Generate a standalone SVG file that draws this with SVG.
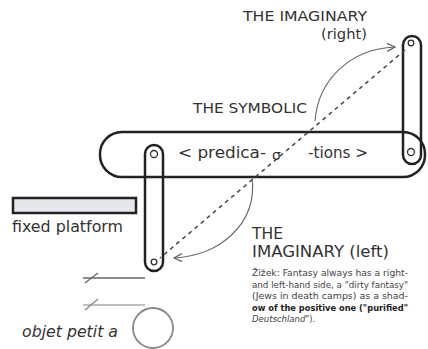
<svg xmlns="http://www.w3.org/2000/svg" width="428" height="349" viewBox="0 0 428 349">
<style>
text{font-family:"DejaVu Sans","Liberation Sans",sans-serif;fill:#333}
.bar{fill:none;stroke:#222;stroke-width:2.5}
.dot{fill:#fff;stroke:#333;stroke-width:1.3}
.arr{fill:none;stroke:#666;stroke-width:1.1}
.para{font-size:8.5px;fill:#444}
</style>
<defs>
<marker id="ah" viewBox="0 0 10 10" refX="9" refY="5" markerWidth="10" markerHeight="10" markerUnits="userSpaceOnUse" orient="auto">
<path d="M1,1 L9,5 L1,9" fill="none" stroke="#666" stroke-width="1.2"/>
</marker>
</defs>
<rect width="428" height="349" fill="#fff"/>
<g id="symbolic-ring">
<rect class="bar" x="100" y="132" width="325" height="45" rx="22"/>
<text x="178" y="158" font-size="16" textLength="88" lengthAdjust="spacingAndGlyphs">&lt; predica-</text>
<text x="272" y="160" font-size="14">σ</text>
<text x="308" y="158" font-size="16" textLength="60" lengthAdjust="spacingAndGlyphs">-tions &gt;</text>
</g>
<g id="right-bar">
<rect class="bar" x="403" y="36" width="18" height="128" rx="9"/>
<circle class="dot" cx="411" cy="43" r="2.8"/>
<circle class="dot" cx="411" cy="152" r="3.5"/>
</g>
<g id="left-bar">
<rect class="bar" x="145" y="145" width="18" height="126" rx="9"/>
<circle class="dot" cx="154" cy="154" r="3.5"/>
<circle class="dot" cx="154" cy="262" r="2.8"/>
</g>
<g id="fixed-platform">
<rect x="13" y="198" width="123" height="15" fill="#e4e8ec" stroke="#222" stroke-width="2.5"/>
<text x="12" y="232" font-size="16" textLength="111" lengthAdjust="spacingAndGlyphs">fixed platform</text>
</g>
<g id="objet-petit-a">
<line x1="83" y1="278" x2="145" y2="278" stroke="#666" stroke-width="1.3"/>
<line x1="85" y1="283" x2="98" y2="273" stroke="#666" stroke-width="1.3"/>
<line x1="83" y1="305" x2="145" y2="305" stroke="#aaa" stroke-width="1.5"/>
<line x1="85" y1="310" x2="98" y2="299" stroke="#888" stroke-width="1.3"/>
<circle cx="153" cy="328" r="20" fill="none" stroke="#888" stroke-width="1.8"/>
<text x="22" y="337" font-size="16" font-style="italic" textLength="96" lengthAdjust="spacingAndGlyphs">objet petit a</text>
</g>
<g id="labels">
<text x="243" y="21" font-size="14" textLength="124" lengthAdjust="spacingAndGlyphs">THE IMAGINARY</text>
<text x="321" y="39" font-size="14" textLength="46" lengthAdjust="spacingAndGlyphs">(right)</text>
<text x="193" y="113" font-size="13.5" textLength="114" lengthAdjust="spacingAndGlyphs">THE SYMBOLIC</text>
<text x="252" y="239" font-size="15" textLength="31" lengthAdjust="spacingAndGlyphs">THE</text>
<text x="252" y="257" font-size="15" textLength="137" lengthAdjust="spacingAndGlyphs">IMAGINARY (left)</text>
</g>
<g id="note">
<text class="para" x="252" y="276" textLength="156" lengthAdjust="spacingAndGlyphs">Žižek: Fantasy always has a right-</text>
<text class="para" x="252" y="287.5" textLength="156" lengthAdjust="spacingAndGlyphs">and left-hand side, a "dirty fantasy"</text>
<text class="para" x="252" y="299" textLength="156" lengthAdjust="spacingAndGlyphs">(Jews in death camps) as a shad-</text>
<text class="para" x="252" y="310.5" textLength="156" lengthAdjust="spacingAndGlyphs" font-weight="bold" style="fill:#222">ow of the positive one ("purified"</text>
<text class="para" x="252" y="322"><tspan font-style="italic">Deutschland</tspan>").</text>
</g>
<g id="connectors">
<line x1="405" y1="50" x2="160" y2="258" stroke="#444" stroke-width="1.5" stroke-dasharray="4,4"/>
<path class="arr" d="M315,121 C318,80 350,49 395,47" marker-end="url(#ah)"/>
<path class="arr" d="M252,177 C258,225 218,256 174,258" marker-end="url(#ah)"/>
</g>
</svg>
